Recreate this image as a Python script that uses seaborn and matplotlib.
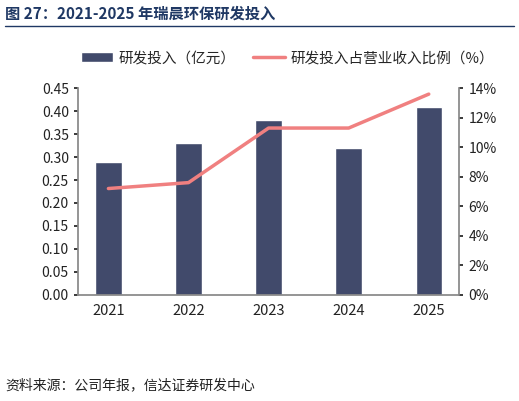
import pandas as pd
import seaborn as sns
import matplotlib.pyplot as plt
from matplotlib.ticker import PercentFormatter

years = ['2021', '2022', '2023', '2024', '2025']
rd_spend = [0.29, 0.33, 0.38, 0.32, 0.41]
rd_ratio = [7.2, 7.6, 11.3, 11.3, 13.6]

sns.set_theme(style="white")
plt.rcParams['font.family'] = ['Noto Sans CJK SC', 'DejaVu Sans']

df = pd.DataFrame({'year': years, 'spend': rd_spend, 'ratio': rd_ratio})

fig = plt.figure(figsize=(5.19, 4.01), dpi=100)
ax1 = fig.add_axes([0.15, 0.265, 0.735, 0.515])
sns.barplot(data=df, x='year', y='spend', color='#414a6b', width=0.33,
            saturation=1, ax=ax1, label='研发投入（亿元）')
ax1.set_ylim(0, 0.45)
ax1.set_yticks([i * 0.05 for i in range(10)])
ax1.set_yticklabels([f'{i * 0.05:.2f}' for i in range(10)])
ax1.set_xlabel('')
ax1.set_ylabel('')

ax2 = ax1.twinx()
sns.lineplot(data=df, x='year', y='ratio', color='#f08080', linewidth=2.5,
             ax=ax2, label='研发投入占营业收入比例（%）', legend=False)
ax2.set_ylim(0, 14)
ax2.set_yticks(range(0, 15, 2))
ax2.yaxis.set_major_formatter(PercentFormatter(decimals=0))
ax2.set_ylabel('')

for ax in (ax1, ax2):
    ax.tick_params(labelsize=10, colors='#222222', length=3)
    for s in ax.spines.values():
        s.set_visible(False)
ax1.spines['bottom'].set_visible(True)
ax1.spines['bottom'].set_color('#888888')
ax1.spines['left'].set_visible(True)
ax1.spines['left'].set_color('#888888')
ax2.spines['right'].set_visible(True)
ax2.spines['right'].set_color('#888888')
ax1.tick_params(axis='x', labelsize=10.5)

h1, l1 = ax1.get_legend_handles_labels()
h2, l2 = ax2.get_legend_handles_labels()
if ax1.get_legend():
    ax1.get_legend().remove()
fig.legend(h1 + h2, l1 + l2, loc='upper left', bbox_to_anchor=(0.13, 0.905),
           ncol=2, frameon=False, fontsize=10.5, handlelength=2.2,
           columnspacing=1.2, handletextpad=0.4)

fig.text(0.01, 0.965, '图 27：2021-2025 年瑞晨环保研发投入', fontsize=11,
         fontweight='bold', color='#1f3864', va='center')
fig.add_artist(plt.Line2D([0.01, 0.99], [0.935, 0.935], color='#1f3864', lw=1))
fig.text(0.01, 0.04, '资料来源：公司年报，信达证券研发中心', fontsize=10,
         style='italic', color='#222222', va='center')

fig.savefig('out.png', dpi=100)
